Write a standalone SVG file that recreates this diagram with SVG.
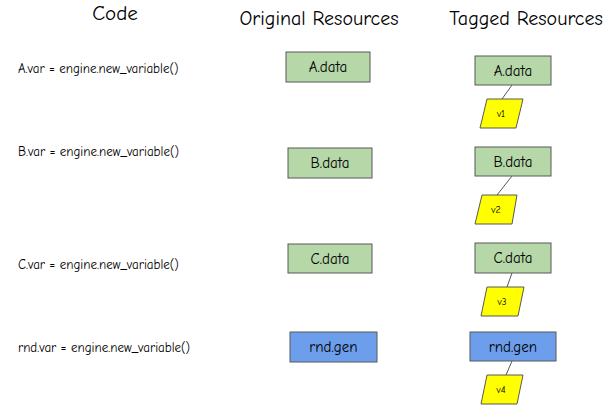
<svg xmlns="http://www.w3.org/2000/svg" width="609" height="410" viewBox="0 0 609 410">
<style>
text{font-family:"Comic Sans MS","Comic Neue","Liberation Sans",sans-serif;fill:#000}
.h{font-size:20px;text-anchor:middle}
.c{font-size:13px}
.b{font-size:15px;text-anchor:middle;dominant-baseline:central}
.v{font-size:10px;text-anchor:middle;dominant-baseline:central}
.g{fill:#b6d7a8;stroke:#595959;stroke-width:1}
.bl{fill:#6d9eeb;stroke:#595959;stroke-width:1}
.y{fill:#ffff00;stroke:#595959;stroke-width:1}
.l{stroke:#595959;stroke-width:1;fill:none}
</style>
<rect width="609" height="410" fill="#fff"/>
<text class="h" x="115" y="20" style="font-size:21px">Code</text>
<text class="h" x="319" y="25">Original Resources</text>
<text class="h" x="526" y="25">Tagged Resources</text>
<g id="code">
<text class="c" x="18" y="73">A.var = engine.new_variable()</text>
<text class="c" x="18" y="156">B.var = engine.new_variable()</text>
<text class="c" x="18" y="269">C.var = engine.new_variable()</text>
<text class="c" x="18" y="352">rnd.var = engine.new_variable()</text>
</g>
<g id="connectors">
<line class="l" x1="512" y1="85" x2="502" y2="99"/>
<line class="l" x1="512" y1="176" x2="497" y2="195"/>
<line class="l" x1="512" y1="273" x2="507" y2="287"/>
<line class="l" x1="512" y1="361" x2="506" y2="375"/>
</g>
<g id="origA"><rect class="g" x="286" y="52" width="84" height="30"/><text class="b" x="328" y="67">A.data</text></g>
<g id="origB"><rect class="g" x="288" y="148" width="84" height="30"/><text class="b" x="330" y="163">B.data</text></g>
<g id="origC"><rect class="g" x="288" y="244" width="84" height="29"/><text class="b" x="330" y="258.5">C.data</text></g>
<g id="origRnd"><rect class="bl" x="290" y="332" width="87" height="30"/><text class="b" x="333.5" y="347">rnd.gen</text></g>
<g id="tagA"><rect class="g" x="475" y="56" width="76" height="29"/><text class="b" x="513" y="70.5">A.data</text></g>
<g id="tagB"><rect class="g" x="475" y="147" width="76" height="29"/><text class="b" x="513" y="161.5">B.data</text></g>
<g id="tagC"><rect class="g" x="475" y="243" width="76" height="30"/><text class="b" x="513" y="258">C.data</text></g>
<g id="tagRnd"><rect class="bl" x="470" y="332" width="86" height="29"/><text class="b" x="513" y="346.5">rnd.gen</text></g>
<g id="v1"><polygon class="y" points="487,99 523,99 516,128 480,128"/><text class="v" x="501" y="114">v1</text></g>
<g id="v2"><polygon class="y" points="482,195 517,195 512,224 475,224"/><text class="v" x="496" y="210">v2</text></g>
<g id="v3"><polygon class="y" points="487,287 524,287 518,316 481,316"/><text class="v" x="502" y="302">v3</text></g>
<g id="v4"><polygon class="y" points="487,375 523,375 517,404 481,404"/><text class="v" x="501" y="390">v4</text></g>
</svg>
